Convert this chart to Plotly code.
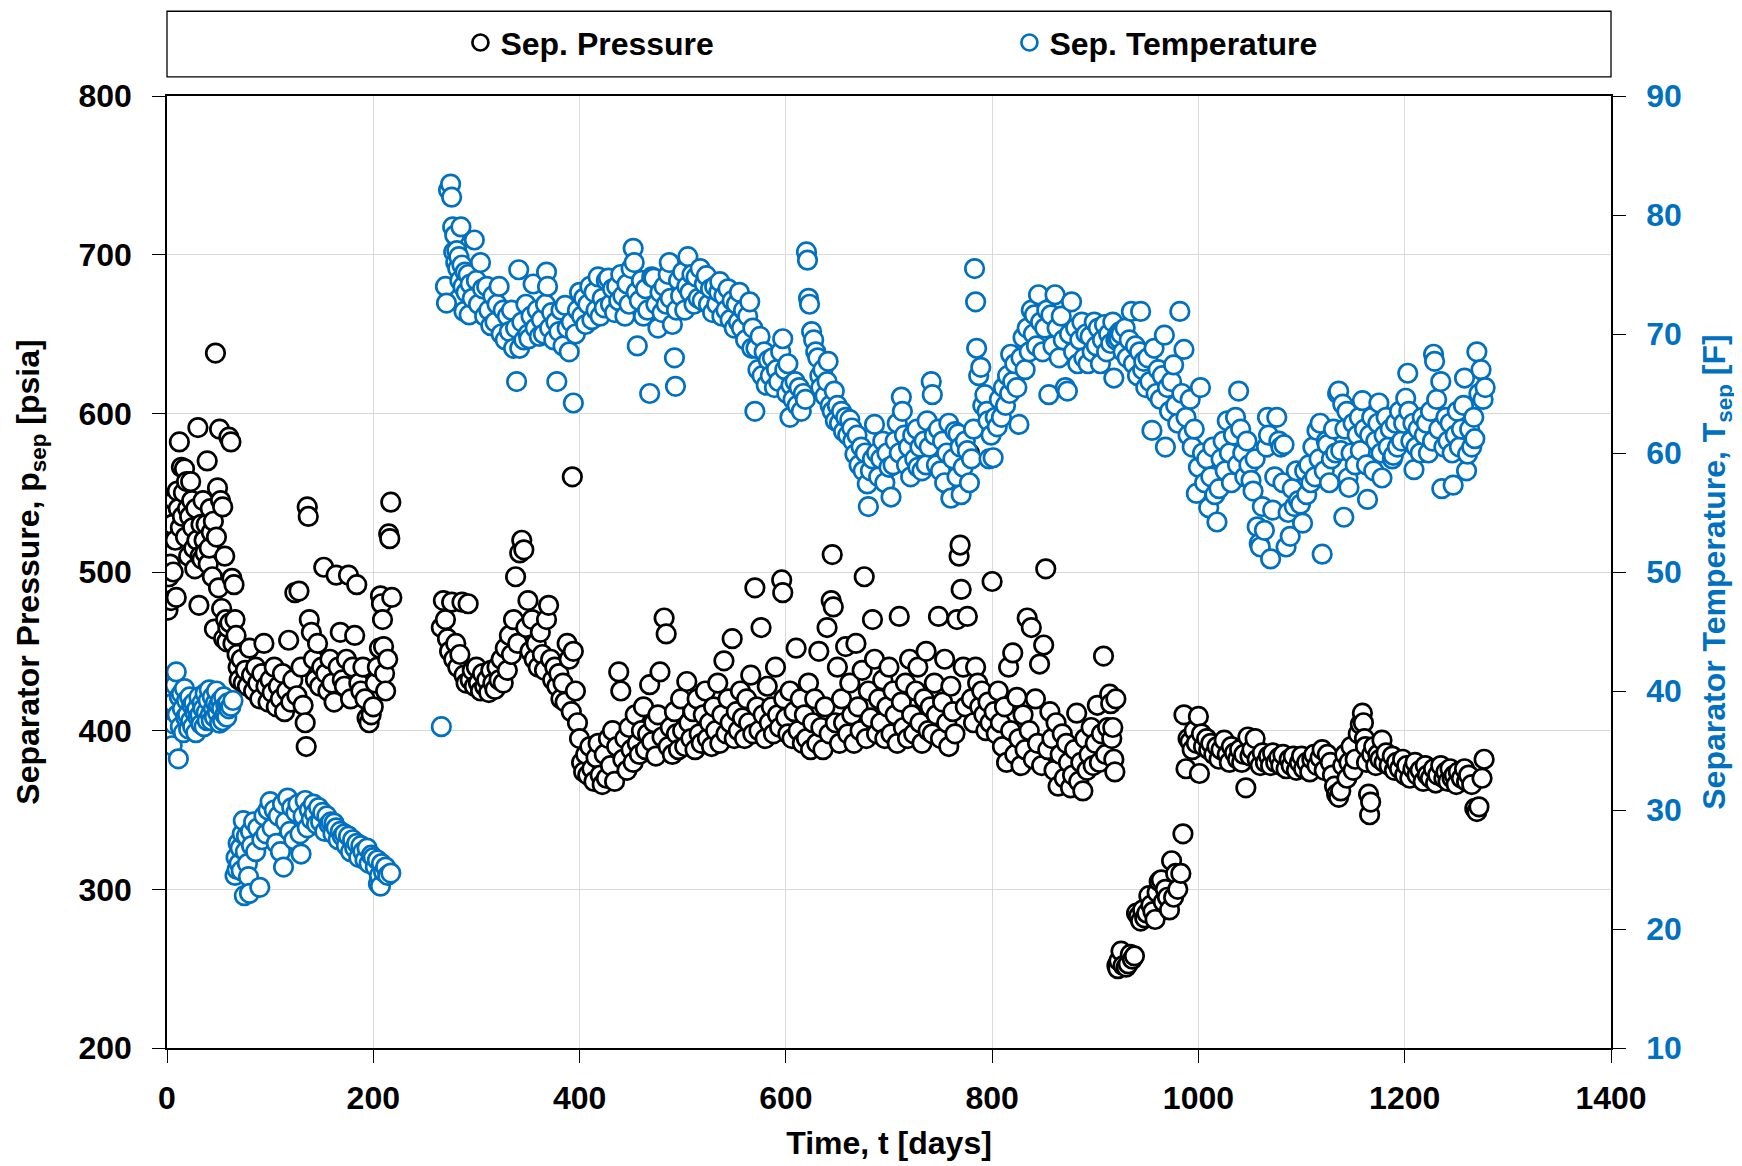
import plotly.graph_objects as go

# ---------------- data (day, value) ----------------
pressure_early = [
    (0,433),(1,476),(2,497),(3,505),(4,482),(5,530),(6,500),(7,545),(8,520),(9,484),
    (10,551),(11,540),(12,582),(13,528),(14,566),(15,535),(16,550),(17,565),(18,522),(19,557),
    (20,540),(21,510),(22,535),(23,557),(24,545),(25,528),(26,515),(27,502),(28,540),(29,520),
    (30,591),(31,479),(32,510),(33,530),(34,508),(35,545),(36,520),(37,512),(38,530),(39,570),
    (40,505),(41,515),(42,540),(43,525),(44,497),(45,532),(46,464),(47,638),(48,522),(49,553),
    (50,490),(51,590),(52,545),(53,477),(54,541),(55,458),(56,510),(57,470),(58,456),(59,465),
    (60,585),(61,468),(62,582),(63,496),(64,455),(65,492),(66,470),(67,460),(68,448),(69,440),
]
pressure_mid1 = [
    (70,432),(72,445),(74,430),(76,438),(78,428),(80,452),(82,435),(84,425),(86,440),(88,430),
    (90,420),(92,436),(94,455),(96,428),(98,418),(100,432),(102,424),(104,440),(106,415),(108,428),
    (110,420),(112,436),(114,412),(116,425),(118,457),(120,418),(122,432),(124,487),(126,422),(128,488),
    (130,440),(132,416),(134,405),(135,390),(136,541),(137,535),(138,470),(140,462),(142,445),(144,432),
    (146,455),(148,428),(150,440),(152,503),(154,436),(156,425),(158,445),(160,430),(162,418),(164,498),
    (166,440),(168,462),(170,432),(172,428),(174,445),(176,498),(178,420),(180,440),(182,460),(184,492),
    (186,430),(188,425),(190,440),(192,420),(194,408),(196,405),(198,410),(200,415),(202,430),(204,440),
    (206,452),(207,485),(208,480),(209,470),(210,453),(211,436),(212,425),(214,445),(215,524),(216,521),
    (217,544),(218,484),
]
pressure_mid2 = [
    (266,465),(268,482),(270,470),(272,458),(274,450),(276,481),(278,445),(280,455),(282,440),(284,448),
    (286,481),(288,435),(290,430),(292,480),(294,432),(296,438),(298,428),(300,440),(302,430),(304,425),
    (306,436),(308,428),(310,432),(312,424),(314,438),(316,430),(318,426),(320,440),(322,432),(324,445),
    (326,430),(328,452),(330,438),(332,460),(334,448),(336,470),(338,497),(340,455),(342,512),(344,520),
    (346,514),(348,465),(350,482),(352,450),(354,470),(356,445),(358,455),(360,440),(362,462),(364,448),
    (366,438),(368,470),(370,479),(372,445),(374,432),(376,440),(378,428),(380,436),(382,420),(384,430),
    (386,418),(388,455),(390,445),(392,412),(393,560),(394,450),(396,425),(398,405),(400,395),
]
pressure_mid3 = [
    (402,380),(404,374),(406,385),(408,372),(410,390),(412,376),(414,368),(416,383),(418,392),(420,372),
    (422,366),(424,385),(426,370),(428,395),(430,378),(432,400),(434,368),(436,390),(438,437),(440,425),
    (442,382),(444,395),(446,375),(448,402),(450,388),(452,380),(454,410),(456,392),(458,385),(460,400),
    (462,415),(464,388),(466,398),(468,429),(470,393),(472,405),(474,384),(476,410),(478,437),(480,396),
    (482,471),(484,461),(486,390),(488,402),(490,385),(492,412),(494,398),(496,388),(498,420),(500,400),
    (502,390),(504,431),(506,405),(508,395),(510,412),(512,388),(514,420),(516,398),(518,392),(520,410),
    (522,425),(524,395),(526,405),(528,390),(530,415),(532,400),(534,430),(536,392),(538,410),(540,444),
    (542,398),(544,420),(546,405),(548,458),(550,395),(552,412),(554,400),(556,425),(558,408),(560,395),
    (562,420),(564,405),(566,435),(568,398),(570,490),(572,415),(574,400),(576,465),(578,410),(580,395),
    (582,428),(584,405),(586,415),(588,398),(590,440),(592,410),(594,402),(596,495),(597,487),(598,420),
    (600,408),
]
pressure_mid4 = [
    (602,398),(604,425),(606,395),(608,412),(610,452),(612,400),(614,420),(616,392),(618,410),(620,395),
    (622,430),(624,388),(626,405),(628,420),(630,392),(632,450),(634,402),(636,388),(638,415),(640,465),
    (642,398),(644,482),(645,511),(646,478),(648,405),(650,440),(652,392),(654,420),(656,405),(658,453),
    (660,398),(662,430),(664,410),(666,392),(668,455),(670,415),(672,400),(674,438),(676,497),(678,395),
    (680,425),(682,408),(684,470),(686,445),(688,398),(690,420),(692,405),(694,432),(696,395),(698,415),
    (700,440),(702,398),(704,425),(706,410),(708,392),(710,472),(712,418),(714,402),(716,430),(718,395),
    (720,445),(722,410),(724,398),(726,425),(728,440),(730,405),(732,392),(734,420),(736,450),(738,400),
    (740,415),(742,398),(744,430),(746,410),(748,472),(750,395),(752,418),(754,445),(756,405),(758,390),
    (760,428),(762,412),(764,398),(766,470),(768,510),(769,517),(770,489),(772,440),(774,415),(776,472),
    (778,575),(780,420),(782,405),(784,440),(786,430),(788,415),(790,425),(792,410),(794,400),(796,418),
    (798,405),(800,494),
]
pressure_mid5 = [
    (802,412),(804,398),(806,425),(808,405),(810,390),(812,415),(814,380),(816,440),(818,400),(820,449),
    (822,385),(824,421),(826,395),(828,378),(830,410),(832,388),(834,471),(836,400),(838,465),(840,382),
    (842,420),(844,392),(846,442),(848,378),(850,454),(852,502),(854,388),(856,412),(858,395),(860,375),
    (862,405),(864,365),(866,385),(868,398),(870,370),(872,392),(874,380),(876,364),(878,372),(880,388),
    (882,411),(884,368),(886,380),(888,362),(890,395),(892,375),(894,385),(896,402),(898,378),(900,392),
    (902,416),(904,380),(906,398),(908,447),(910,385),(912,402),(914,423),(915,417),(916,395),(917,402),
    (918,382),(919,374),(920,420),
]
pressure_drop = [
    (921,252),(922,250),(923,255),(925,261),(927,252),(930,251),(932,253),(934,259),(936,256),(938,258),
    (940,285),(942,283),(944,280),(946,287),(948,282),(950,285),(952,296),(954,290),(956,286),(958,281),
    (960,298),(962,305),(964,306),(966,292),(968,300),(970,295),(972,287),(974,318),(976,295),(978,310),
    (980,300),(983,310),(985,335),
]
pressure_late = [
    (986,410),(988,376),(990,395),(992,393),(994,388),(996,400),(998,392),(1000,409),(1001,373),(1003,398),
    (1005,390),(1008,395),(1010,388),(1012,392),(1015,385),(1018,390),(1020,382),(1022,388),(1025,394),(1028,385),
    (1030,380),(1032,390),(1035,386),(1038,382),(1040,388),(1042,380),(1044,385),(1046,364),(1048,396),(1050,384),
    (1052,388),(1055,395),(1057,382),(1060,378),(1062,386),(1065,380),(1068,384),(1070,378),(1072,386),(1075,380),
    (1078,383),(1080,378),(1082,385),(1085,376),(1088,382),(1090,378),(1092,384),(1095,375),(1098,380),(1100,384),
    (1102,376),(1105,380),(1108,374),(1110,382),(1112,385),(1115,378),(1118,383),(1120,388),(1122,375),(1125,385),
    (1128,380),(1130,372),(1132,365),(1134,360),(1136,358),(1138,362),(1140,378),(1142,385),(1144,370),(1146,380),
    (1148,390),(1150,375),(1152,382),(1155,398),(1157,404),(1159,411),(1160,405),(1161,395),(1162,390),(1163,380),
    (1165,360),(1166,347),(1167,355),(1168,385),(1170,390),(1172,378),(1174,385),(1176,382),(1178,394),(1180,380),
    (1182,386),(1185,378),(1188,384),(1190,375),(1192,380),(1195,376),(1198,382),(1200,372),(1202,378),(1205,370),
    (1208,376),(1210,380),(1212,372),(1215,375),(1218,368),(1220,378),(1222,372),(1225,370),(1228,376),(1230,367),
    (1232,372),(1235,378),(1238,370),(1240,374),(1242,368),(1244,376),(1246,370),(1248,372),(1250,366),(1252,374),
    (1255,370),(1258,376),(1260,368),(1262,372),(1265,366),(1268,351),(1270,349),(1272,352),(1275,370),(1277,382),
]

temperature_early = [
    (0,37.5),(1,38.5),(2,36.8),(3,40.0),(4,38.2),(5,35.4),(6,39.0),(7,37.2),(8,40.5),(9,41.6),
    (10,38.0),(11,34.3),(12,39.5),(13,37.0),(14,39.8),(15,38.5),(16,36.5),(17,40.2),(18,37.8),(19,39.2),
    (20,38.0),(21,36.8),(22,39.5),(23,37.5),(24,38.8),(25,37.0),(26,39.0),(27,38.2),(28,36.5),(29,38.5),
    (30,37.8),(31,39.5),(32,38.0),(33,37.2),(34,39.0),(35,38.5),(36,37.0),(37,39.8),(38,38.2),(39,37.5),
    (40,39.2),(41,40.1),(42,38.0),(43,37.5),(44,39.5),(45,38.5),(46,37.8),(47,39.0),(48,40.0),(49,38.2),
    (50,38.8),(51,37.3),(52,39.2),(53,38.5),(54,37.5),(55,39.5),(56,38.0),(57,38.8),(58,37.8),(59,39.0),
    (60,38.5),(62,38.7),(64,39.2),
]
temperature_hump = [
    (66,24.5),(67,26.0),(68,25.0),(69,27.2),(70,25.5),(71,26.8),(72,24.9),(73,28.0),(74,29.1),(75,22.8),
    (76,26.5),(77,27.8),(78,25.5),(79,24.4),(80,23.0),(81,28.2),(82,27.0),(84,29.0),(86,26.5),(88,28.5),
    (90,23.5),(92,27.5),(94,29.5),(96,28.0),(98,30.0),(100,30.7),(102,28.5),(104,30.0),(106,27.2),(108,29.5),
    (110,26.5),(112,30.5),(113,25.2),(115,29.0),(117,31.0),(119,28.2),(121,30.2),(123,27.5),(125,29.8),(127,30.5),
    (129,28.0),(130,26.3),(132,29.5),(134,30.8),(136,28.5),(138,30.0),(140,29.2),(142,30.5),(143,29.7),(145,28.8),
    (147,30.2),(149,29.0),(151,29.8),(153,28.2),(155,29.5),(157,28.8),(159,29.0),(161,28.0),(162,28.9),(164,28.5),
    (166,27.5),(168,28.2),(170,27.8),(172,28.0),(174,27.0),(176,27.8),(178,26.5),(180,27.5),(182,26.8),(184,27.2),
    (186,26.0),(188,27.0),(190,26.5),(192,25.8),(194,26.8),(196,25.5),(198,26.2),(200,26.0),(202,25.2),(204,25.8),
    (205,23.8),(206,24.5),(207,23.6),(208,25.5),(210,24.8),(212,25.2),(214,24.5),(217,24.7),
]
temperature_mid1 = [
    (266,37.0),(270,74.0),(271,72.6),(273,82.1),(275,82.6),(276,81.5),(277,79.0),(278,76.9),(279,78.3),(280,76.0),
    (281,77.0),(282,75.5),(283,76.5),(284,74.5),(285,79.0),(286,75.8),(287,74.0),(288,71.9),(289,75.2),(290,73.5),
    (292,75.0),(293,71.6),(294,74.2),(296,73.0),(298,77.9),(300,74.5),(302,72.5),(304,76.0),(306,73.8),(308,71.5),
    (310,74.0),(312,72.0),(314,70.7),(316,73.2),(318,71.0),(320,72.5),(322,74.0),(324,70.0),(326,72.0),(328,69.5),
    (330,71.5),(332,70.2),(334,72.0),(336,68.8),(338,70.5),(339,66.0),(341,75.4),(342,68.8),(344,71.0),(346,69.5),
    (348,72.5),(350,70.0),(351,69.6),(353,71.5),(355,74.2),(357,70.5),(359,72.0),(361,69.8),(363,71.2),(365,70.0),
    (367,72.5),(368,75.2),(369,74.0),(371,70.5),(373,71.8),(375,69.5),(377,71.0),(378,66.0),(380,70.2),(382,72.0),
    (384,69.0),(386,72.4),(388,70.5),(390,68.5),(392,71.0),(394,64.2),(396,70.0),(398,72.0),(400,73.5),
]
temperature_mid2 = [
    (402,71.5),(404,73.0),(406,70.8),(408,72.5),(410,74.0),(412,71.2),(414,73.5),(416,72.0),(418,74.8),(420,71.5),
    (422,73.0),(424,72.2),(426,74.5),(428,74.7),(430,72.5),(432,73.8),(434,71.8),(436,74.0),(438,72.8),(440,75.0),
    (442,73.2),(444,71.5),(446,74.2),(448,72.5),(450,75.5),(452,77.2),(453,76.0),(455,73.5),(456,69.0),(458,72.8),
    (460,74.5),(462,71.5),(464,73.8),(466,72.0),(468,65.0),(470,74.8),(472,74.7),(474,72.5),(476,70.5),(478,73.5),
    (480,71.8),(482,74.0),(484,72.5),(486,75.0),(487,76.0),(488,73.0),(490,70.8),(492,68.0),(493,65.6),(494,72.0),
    (496,74.5),(498,73.2),(500,75.2),(502,72.0),(504,74.0),(505,76.5),(507,73.5),(509,75.0),(511,72.5),(513,74.8),
    (515,73.0),(517,75.5),(519,72.8),(521,74.2),(523,74.9),(525,72.5),(527,73.8),(529,71.8),(531,74.0),(533,72.5),
    (535,73.5),(536,74.4),(538,71.5),(540,73.2),(542,72.0),(544,73.8),(546,71.2),(548,72.8),(550,70.5),(552,72.5),
    (554,71.0),(555,73.5),(557,70.5),(559,72.0),(561,69.5),(563,71.5),(565,72.7),(567,68.8),(568,70.5),(570,63.5),
    (571,68.8),(573,67.0),(575,69.8),(577,66.5),(579,68.5),(581,65.7),(583,67.8),(585,66.5),(587,68.0),(589,65.5),
    (591,67.0),(593,66.0),(595,68.5),(597,69.6),(599,67.0),(601,65.0),(602,67.5),(604,63.0),(605,65.7),(607,64.5),
    (609,66.0),
]
temperature_mid3 = [
    (611,64.0),(613,65.5),(615,63.5),(617,65.0),(619,64.5),(620,76.9),(621,76.2),(622,73.0),(623,72.5),(625,70.2),
    (627,69.5),(629,68.5),(631,68.0),(633,66.5),(634,65.5),(636,67.0),(638,64.8),(640,66.0),(641,67.7),(643,64.0),
    (645,63.5),(647,65.2),(648,62.7),(650,64.0),(652,62.5),(654,63.5),(656,61.8),(658,63.0),(660,61.5),(662,62.8),
    (664,62.1),(665,61.0),(667,59.9),(669,61.5),(671,59.0),(673,60.5),(675,58.5),(677,60.0),(679,57.4),(680,55.5),
    (682,58.5),(684,59.5),(686,62.4),(688,60.0),(690,58.0),(692,59.5),(694,61.0),(696,57.5),(698,60.0),(700,58.8),
    (702,56.3),(704,59.0),(706,61.0),(708,62.5),(710,60.0),(712,64.7),(713,63.5),(715,61.5),(717,59.0),(719,60.5),
    (721,58.0),(723,61.5),(725,59.5),(727,62.0),(728,58.8),(730,60.5),(732,58.5),(734,61.0),(736,59.0),(737,62.7),
    (739,60.5),(741,66.0),(742,64.9),(744,61.5),(746,59.0),(748,62.0),(750,58.5),(752,61.0),(754,57.5),(756,60.0),
    (758,62.5),(760,56.2),(762,59.5),(764,61.8),(766,58.0),(767,61.6),(769,60.5),(770,56.5),(772,58.8),(774,61.0),
    (776,60.2),(778,57.5),(780,59.5),(782,62.0),(783,75.5),(784,72.7),(785,68.8),(787,66.5),(789,67.2),(791,64.0),
    (793,64.9),(795,63.5),(796,62.7),(797,59.5),(799,61.5),(801,59.6),(803,63.0),(805,62.2),
]
temperature_mid4 = [
    (807,64.5),(809,63.0),(811,65.5),(813,64.0),(815,66.5),(817,65.0),(818,68.3),(820,66.0),(822,67.5),(824,65.5),
    (826,62.4),(828,68.0),(830,69.7),(832,67.0),(834,70.5),(836,68.5),(838,72.0),(840,70.0),(841,71.6),(843,69.0),
    (845,73.3),(847,71.0),(849,68.5),(851,70.5),(853,72.0),(855,64.9),(857,71.6),(859,69.0),(861,73.3),(863,70.5),
    (865,68.0),(867,71.5),(869,69.5),(871,65.5),(873,65.2),(875,70.0),(877,72.7),(879,68.5),(881,70.5),(883,67.5),
    (885,69.5),(887,71.0),(889,68.0),(891,70.0),(893,67.5),(895,69.8),(897,68.5),(899,71.0),(901,69.0),(903,70.5),
    (905,67.5),(907,69.5),(909,70.8),(911,68.5),(913,70.0),(915,69.2),(917,71.0),(918,66.3),(920,69.5),(921,69.8),
    (922,70.0),(923,69.6),(924,70.2),(925,70.0),(927,68.5),(929,70.5),(931,68.0),(933,69.5),(935,71.9),(937,67.5),
    (939,69.0),(941,66.5),(943,68.5),(944,71.9),(946,67.0),(947,67.7),(949,65.5),(951,68.0),(953,66.0),(955,61.9),
    (957,68.8),(959,65.0),(961,67.0),(963,64.5),(965,66.5),(967,69.9),(968,60.5),(970,65.5),(972,63.5),(974,66.0),
    (976,67.4),(978,64.0),(980,62.5),(982,71.9),(984,65.0),(986,68.7),(988,63.0),(990,61.5),(992,64.5),(994,60.5),
    (996,62.0),(998,56.6),(1000,58.8),
]
temperature_late = [
    (1002,65.5),(1004,60.0),(1006,57.5),(1008,59.5),(1010,55.4),(1012,58.0),(1014,60.5),(1016,56.5),(1018,54.2),(1020,57.0),
    (1022,59.5),(1024,61.0),(1026,58.5),(1028,62.7),(1030,60.0),(1032,57.5),(1034,61.5),(1036,63.0),(1038,59.0),(1039,65.2),
    (1041,62.0),(1043,60.0),(1045,58.0),(1047,61.0),(1049,59.0),(1051,57.7),(1053,56.8),(1055,59.5),(1057,53.8),(1059,52.4),
    (1060,52.1),(1062,55.5),(1064,53.5),(1066,60.5),(1067,63.0),(1068,61.5),(1070,51.1),(1072,55.2),(1074,58.0),(1076,63.0),
    (1078,61.0),(1080,60.5),(1082,57.5),(1083,60.7),(1085,52.1),(1087,55.0),(1089,53.0),(1091,57.0),(1093,55.5),(1095,58.5),
    (1097,56.0),(1099,55.7),(1101,54.1),(1103,58.5),(1105,56.5),(1107,59.0),(1109,57.5),(1111,60.5),(1113,58.0),(1115,61.9),
    (1117,59.5),(1118,62.5),(1120,51.5),(1122,58.5),(1124,61.0),(1125,60.7),(1127,57.5),(1129,59.5),(1131,62.0),(1133,60.0),
    (1135,65.0),(1136,65.2),(1138,60.2),(1140,64.1),(1141,54.6),(1142,62.0),(1144,63.5),(1145,57.9),(1146,57.1),(1148,60.0),
    (1150,62.5),(1152,59.0),(1154,61.5),(1156,63.0),(1157,60.2),(1159,64.4),(1161,62.0),(1163,59.0),(1164,56.1),(1166,61.5),
    (1168,63.0),(1170,58.5),(1172,61.0),(1174,62.5),(1175,64.2),(1177,60.0),(1178,57.9),(1180,61.5),(1182,63.0),(1184,60.5),
    (1186,62.0),(1188,59.5),(1189,59.8),(1191,62.5),(1193,60.5),(1195,63.5),(1197,61.0),(1199,62.5),(1201,64.6),(1203,66.7),
    (1204,63.5),(1206,61.0),(1208,62.5),(1209,58.6),(1211,60.5),(1213,62.0),(1215,60.0),(1217,63.0),(1219,61.5),(1221,62.5),
    (1223,60.0),(1225,63.5),(1227,61.0),(1228,68.3),(1229,67.7),(1231,64.5),(1233,62.0),(1235,66.0),(1236,57.0),(1238,60.5),
    (1240,63.0),(1242,61.0),(1244,62.5),(1246,60.0),(1247,57.3),(1249,61.5),(1251,63.5),(1253,60.5),(1255,62.0),(1257,64.0),
    (1258,66.3),(1260,58.5),(1261,59.9),(1263,62.0),(1265,60.5),(1267,63.0),(1268,61.2),(1270,68.5),(1272,65.0),(1274,67.0),
    (1276,64.5),(1278,65.5),
]

x_ticks = [0, 200, 400, 600, 800, 1000, 1200, 1400]
p_ticks = [200, 300, 400, 500, 600, 700, 800]
t_ticks = [10, 20, 30, 40, 50, 60, 70, 80, 90]

pressure = (pressure_early + pressure_mid1 + pressure_mid2 + pressure_mid3 + pressure_mid4
            + pressure_mid5 + pressure_drop + pressure_late)
temperature = (temperature_early + temperature_hump + temperature_mid1 + temperature_mid2
               + temperature_mid3 + temperature_mid4 + temperature_late)

p_days = [d for d, _ in pressure]
p_vals = [v for _, v in pressure]
t_days = [d for d, _ in temperature]
t_vals = [v for _, v in temperature]

# ---------------- styling ----------------
FONT = "Liberation Sans, Arial, sans-serif"
BLUE = "#0070C0"
FS = 32

fig = go.Figure()
fig.add_trace(go.Scatter(
    x=p_days, y=p_vals, mode="markers", name="Sep. Pressure",
    marker=dict(symbol="circle", size=18.5, color="white",
                line=dict(color="black", width=2.7)),
    yaxis="y",
))
fig.add_trace(go.Scatter(
    x=t_days, y=t_vals, mode="markers", name="Sep. Temperature",
    marker=dict(symbol="circle", size=18.5, color="white",
                line=dict(color=BLUE, width=2.7)),
    yaxis="y2",
))

# page body has an 8px margin, so the figure is 8px smaller and margins shifted
fig.update_layout(
    width=1734, height=1158,
    margin=dict(l=159, r=131, t=88, b=118, autoexpand=False),
    paper_bgcolor="white", plot_bgcolor="white",
    font=dict(family=FONT, size=FS, color="black", weight="bold"),
    showlegend=True,
    legend=dict(
        orientation="h", x=0.2032, xanchor="left", y=1.056, yanchor="middle",
        font=dict(family=FONT, size=FS, color="black", weight="bold"),
        bgcolor="rgba(0,0,0,0)", borderwidth=0,
        entrywidth=504, itemsizing="trace",
    ),
    xaxis=dict(
        range=[0, 1400], tickvals=x_ticks, ticktext=[str(v) for v in x_ticks],
        showgrid=True, gridcolor="#D9D9D9", gridwidth=1,
        showline=True, linecolor="black", linewidth=1.6, mirror=True,
        ticks="outside", ticklen=13, tickwidth=1.4, tickcolor="black",
        ticklabelstandoff=8,
        tickfont=dict(family=FONT, size=FS, color="black", weight="bold"),
        title=dict(text="Time, t [days]", standoff=16,
                   font=dict(family=FONT, size=FS, color="black", weight="bold")),
        zeroline=False, automargin=False,
    ),
    yaxis=dict(
        range=[200, 800], tickvals=p_ticks, ticktext=[str(v) for v in p_ticks],
        showgrid=True, gridcolor="#D9D9D9", gridwidth=1,
        showline=True, linecolor="black", linewidth=1.6,
        ticks="outside", ticklen=13, tickwidth=1.4, tickcolor="black",
        ticklabelstandoff=14,
        tickfont=dict(family=FONT, size=FS, color="black", weight="bold"),
        title=dict(text="Separator Pressure, p<sub>sep</sub> [psia]", standoff=29,
                   font=dict(family=FONT, size=FS, color="black", weight="bold")),
        zeroline=False, automargin=False,
    ),
    yaxis2=dict(
        range=[10, 90], tickvals=t_ticks, ticktext=[str(v) for v in t_ticks],
        overlaying="y", side="right", anchor="x",
        showgrid=False,
        showline=True, linecolor="black", linewidth=1.6,
        ticks="outside", ticklen=13, tickwidth=1.4, tickcolor="black",
        ticklabelstandoff=14,
        tickfont=dict(family=FONT, size=FS, color=BLUE, weight="bold"),
        title=dict(text="Separator Temperature, T<sub>sep</sub> [F]", standoff=22,
                   font=dict(family=FONT, size=FS, color=BLUE, weight="bold")),
        zeroline=False, automargin=False,
    ),
    shapes=[dict(type="rect", xref="paper", yref="paper",
                 x0=0, x1=1.0, y0=1.02, y1=1.089,
                 line=dict(color="black", width=1.3), fillcolor="rgba(0,0,0,0)")],
)

fig.write_html("out.html")
